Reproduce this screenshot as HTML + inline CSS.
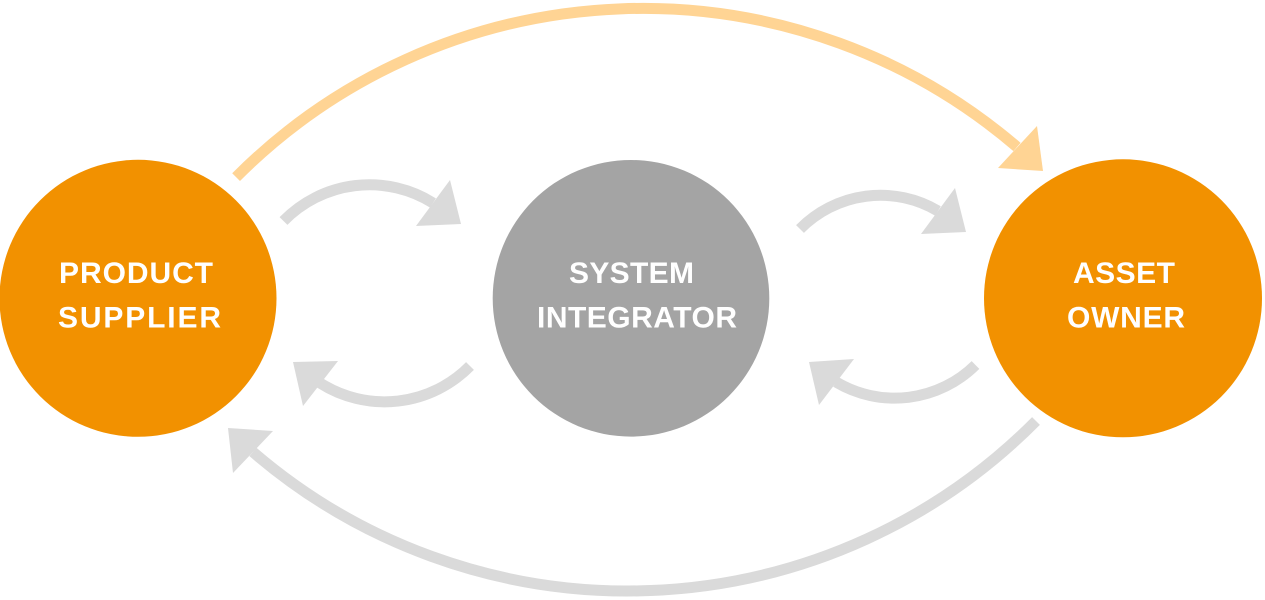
<!DOCTYPE html>
<html>
<head>
<meta charset="utf-8">
<style>
  html, body { margin:0; padding:0; background:#ffffff; }
  body { width:1265px; height:600px; overflow:hidden; }
  svg { display:block; }
  text { font-family: "Liberation Sans", "DejaVu Sans", sans-serif; font-weight:bold; font-size:30px; fill:#ffffff; }
</style>
</head>
<body>
<svg width="1265" height="600" viewBox="0 0 1265 600" xmlns="http://www.w3.org/2000/svg">
  <!-- big top arc (light orange) -->
  <path d="M236.1,177.1 A574.5,574.5 0 0 1 1017,147" fill="none" stroke="#FFD494" stroke-width="11"/>
  <polygon points="1037,126 1043,171 998,168" fill="#FFD494"/>

  <!-- big bottom arc (light gray) -->
  <path d="M1036,421 A575,575 0 0 1 253,452" fill="none" stroke="#DADADA" stroke-width="11"/>
  <polygon points="228,428 273,431 233,473" fill="#DADADA"/>

  <!-- small arcs -->
  <path d="M283.5,221 A120,120 0 0 1 433,203" fill="none" stroke="#DADADA" stroke-width="11"/>
  <polygon points="450,180 461,224 416,226" fill="#DADADA"/>

  <path d="M800,229 A113,113 0 0 1 938,211" fill="none" stroke="#DADADA" stroke-width="11"/>
  <polygon points="955,188 966,232 921,234" fill="#DADADA"/>

  <path d="M470,366 A120,120 0 0 1 320,383" fill="none" stroke="#DADADA" stroke-width="11"/>
  <polygon points="293,362 338,361 303,406" fill="#DADADA"/>

  <path d="M975.5,365 A115,115 0 0 1 836,382" fill="none" stroke="#DADADA" stroke-width="11"/>
  <polygon points="809,362 854,359 819,405" fill="#DADADA"/>

  <!-- circles -->
  <circle cx="138" cy="298.3" r="138.5" fill="#F29100"/>
  <circle cx="631" cy="298.3" r="138.3" fill="#A4A4A4"/>
  <circle cx="1123" cy="298.3" r="139" fill="#F29100"/>

  <!-- labels -->
  <text x="59" y="283" textLength="154" lengthAdjust="spacing">PRODUCT</text>
  <text x="58" y="327.5" textLength="163" lengthAdjust="spacing">SUPPLIER</text>
  <text x="569" y="283" textLength="125" lengthAdjust="spacing">SYSTEM</text>
  <text x="537" y="327.5" textLength="200" lengthAdjust="spacing">INTEGRATOR</text>
  <text x="1073" y="283" textLength="102" lengthAdjust="spacing">ASSET</text>
  <text x="1067" y="327.5" textLength="118" lengthAdjust="spacing">OWNER</text>
</svg>
</body>
</html>
